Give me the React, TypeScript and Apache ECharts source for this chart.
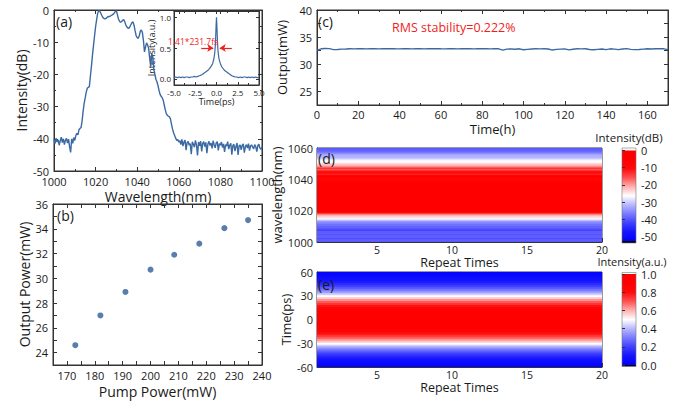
import React, { useEffect, useRef } from "react";
import * as echarts from "echarts";

const FONT = "'Open Sans', 'Noto Sans', sans-serif";
const TXT = "#1a1a1a";
const AXC = "#333333";
const LINE = "#3b6aa3";
const DOT = "#2f5d97";
const RED = "#f01e1e";

// ---------- (a) spectrum ----------
const WL_START = 1000;
const WL_STEP = 0.5;
const SPECTRUM_DB = [
  -40.2, -41.5, -39.8, -41.0, -40.3, -42.0, -40.6, -39.5, -41.2, -40.0, -41.8, -40.4, -39.9, -41.3, -40.1, -42.5, -44.2, -40.0, -41.4, -39.6, -40.5,
  -39.0, -38.3, -38.8, -37.2, -36.8, -36.5, -34.5, -31.5, -29.0, -27.3,
  -25.5, -24.3, -24.0, -23.8, -20.5, -17.5, -14.0, -11.0, -8.0, -5.2,
  -3.0, -1.0, -0.2, -0.3, -1.0, -1.7, -2.3, -2.6, -2.8, -2.6,
  -2.3, -2.0, -2.1, -1.9, -1.7, -1.5, -1.3, -0.9, -0.4, -0.3,
  -1.5, -2.8, -3.5, -3.8, -3.6, -3.2, -3.0, -3.6, -4.6, -5.2,
  -5.6, -5.7, -5.2, -4.5, -3.9, -3.7, -4.8, -6.5, -8.0, -8.6,
  -8.8, -8.0, -6.6, -6.2, -7.0, -9.5, -13.0, -11.5, -10.2, -10.8,
  -12.0, -15.0, -17.5, -13.5, -14.5, -18.5, -20.0, -21.5, -22.3, -23.5,
  -25.0, -26.2, -26.8, -27.2, -28.0, -29.5, -31.0, -32.2, -32.7, -33.0,
  -33.2, -33.8, -35.5, -37.0, -38.2, -39.0, -39.8, -40.5, -40.2, -41.0,
  -40.6, -41.8, -40.2, -42.3, -41.0, -40.4, -43.5, -41.2, -40.8, -42.0,
  -41.5, -44.8, -40.9, -41.7, -42.6, -40.5, -41.9, -45.2, -41.0, -42.2,
  -40.7, -43.9, -41.4, -40.9, -42.4, -41.1, -44.5, -41.6, -40.8, -42.1,
  -41.3, -43.0, -40.6, -41.9, -42.8, -41.2, -40.9, -43.6, -41.5, -42.0,
  -41.0, -42.7, -41.6, -44.1, -41.8, -42.3, -40.9, -43.2, -42.0, -41.4,
  -44.9, -42.1, -41.7, -43.8, -42.4, -41.3, -45.0, -42.2, -41.9, -43.4,
  -42.0, -41.6, -44.3, -42.5, -41.8, -42.9, -41.5, -43.7, -42.2, -41.9,
  -42.6, -43.1, -41.8, -42.4, -44.0, -42.1, -41.7, -42.9, -43.3, -42.5,
];
const WAVELENGTHS = SPECTRUM_DB.map((_, i) => WL_START + i * WL_STEP);

// ---------- (a) inset: autocorrelation ----------
const INSET_T = [
  -5, -4.8, -4.6, -4.4, -4.2, -4, -3.8, -3.6, -3.4, -3.2, -3, -2.8, -2.6, -2.4, -2.2, -2,
  -1.8, -1.6, -1.4, -1.2, -1,
  -0.8, -0.6, -0.45, -0.3, -0.2, -0.15, -0.1, -0.05,
  0,
  0.05, 0.1, 0.15, 0.2, 0.3, 0.45, 0.6, 0.8,
  1, 1.2, 1.4, 1.6, 1.8,
  2, 2.2, 2.4, 2.6, 2.8, 3, 3.2, 3.4, 3.6, 3.8, 4, 4.2, 4.4, 4.6, 4.8, 5,
];
const INSET_I = [
  0.02, 0.03, 0.02, 0.03, 0.02, 0.03, 0.02, 0.03, 0.03, 0.02, 0.03, 0.03, 0.04, 0.03, 0.04, 0.05,
  0.06, 0.08, 0.1, 0.12, 0.14,
  0.17, 0.21, 0.25, 0.33, 0.43, 0.52, 0.66, 0.86,
  1.0,
  0.85, 0.65, 0.51, 0.42, 0.32, 0.25, 0.2, 0.16,
  0.13, 0.11, 0.09, 0.07, 0.05,
  0.04, 0.03, 0.03, 0.02, 0.03, 0.02, 0.03, 0.03, 0.02, 0.03, 0.02, 0.03, 0.02, 0.03, 0.02, 0.02,
];
const INSET_Y_TICKS = [0, 0.5, 1.0];
const FWHM_TEXT = "1.41*231.7fs";
const ARROW_LEVEL = 0.5;
const ARROW_LEFT = [-1.8, -0.38];
const ARROW_RIGHT = [1.8, 0.38];

// ---------- (b) ----------
const PUMP_MW = [173, 182, 191, 200, 208.5, 217.5, 226.5, 235];
const OUTPUT_MW = [24.6, 27.0, 28.9, 30.7, 31.9, 32.8, 34.05, 34.7];

// ---------- (c) ----------
const HOURS = Array.from({ length: 86 }, (_, i) => i * 2);
const STABILITY_MW = [
  32.55, 32.85, 32.9, 32.88, 32.7, 32.72, 32.8, 32.82, 32.85, 32.83,
  32.86, 32.85, 32.84, 32.86, 32.85, 32.84, 32.86, 32.85, 32.87, 32.85,
  32.84, 32.86, 32.85, 32.83, 32.86, 32.85, 32.84, 32.86, 32.85, 32.87,
  32.85, 32.84, 32.86, 32.85, 32.84, 32.86, 32.85, 32.86, 32.84, 32.85,
  32.86, 32.85, 32.84, 32.86, 32.85, 32.62, 32.8, 32.82, 32.78, 32.85,
  32.68, 32.75, 32.82, 32.85, 32.84, 32.86, 32.82, 32.62, 32.75, 32.8,
  32.84, 32.65, 32.78, 32.85, 32.84, 32.86, 32.72, 32.68, 32.75, 32.82,
  32.7, 32.85, 32.8, 32.7, 32.82, 32.88, 32.75, 32.7, 32.72, 32.8,
  32.85, 32.82, 32.86, 32.88, 32.85, 32.7,
];
const RMS_TEXT = "RMS stability=0.222%";

// ---------- (d) / (e) ----------
const REPEAT_RANGE = [1, 20];
const REPEAT_LABELS = [5, 10, 15, 20];
const REPEAT_TICKS = [2.5, 5, 7.5, 10, 12.5, 15, 17.5, 20];
const D_WL_RANGE = [1000, 1060];
const D_CB_TICKS = [-50, -40, -30, -20, -10, 0];
const E_TIME_PS = Array.from({ length: 49 }, (_, i) => -60 + i * 2.5);
const E_INTENSITY = [
  0.02, 0.03, 0.05, 0.07, 0.09, 0.12, 0.16, 0.2, 0.25, 0.3, 0.36, 0.43,
  0.5, 0.57, 0.63, 0.69, 0.74, 0.79, 0.84, 0.88, 0.92, 0.95, 0.97, 0.99,
  1.0,
  0.99, 0.97, 0.95, 0.92, 0.88, 0.84, 0.79, 0.74, 0.69, 0.63, 0.57, 0.5,
  0.43, 0.36, 0.3, 0.25, 0.2, 0.16, 0.12, 0.09, 0.07, 0.05, 0.03, 0.02,
];

const CMAP = [
  "#0000ff", "#1414ff", "#4040ff", "#7a7aff", "#b8b8ff", "#ffffff",
  "#ffb0b0", "#ff5050", "#ff0a0a", "#ff0000", "#ff0000",
];

// layout
const G_A = { left: 54, top: 10, width: 208, height: 161 };
const G_IN = { left: 174, top: 11, width: 85, height: 74 };
const G_B = { left: 53, top: 204, width: 209, height: 161 };
const G_C = { left: 317, top: 10, width: 351, height: 95 };
const G_D = { left: 317, top: 148, width: 285, height: 94 };
const G_CD = { left: 622, top: 148, width: 14, height: 95 };
const G_E = { left: 317, top: 272, width: 285, height: 95 };
const G_CE = { left: 622, top: 274, width: 14, height: 91 };
const CD_MIN = -53.8, CD_MAX = 1.4;

function axis(gridIndex: number, o: any = {}) {
  const { label = {}, tick = {}, name, nameGap, nameSize = 14, minor, ...rest } = o;
  return {
    type: "value",
    gridIndex,
    axisLine: { show: true, onZero: false, lineStyle: { color: AXC, width: 1 } },
    axisTick: { show: true, inside: true, length: 4, lineStyle: { color: AXC, width: 1 }, ...tick },
    minorTick: minor
      ? { show: true, splitNumber: minor, length: 2, lineStyle: { color: AXC, width: 1 } }
      : { show: false },
    axisLabel: {
      color: TXT, fontSize: 11, fontFamily: FONT, margin: 5,
      formatter: (v: number) => String(v), ...label,
    },
    splitLine: { show: false },
    name,
    nameLocation: "middle",
    nameGap,
    nameTextStyle: { color: TXT, fontSize: nameSize, fontFamily: FONT },
    ...rest,
  };
}
function mirror(gridIndex: number, position: string, o: any = {}) {
  return axis(gridIndex, { position, ...o, label: { show: false } });
}

function heatItem(params: any, api: any) {
  const p1 = api.coord([api.value(0), api.value(3)]);
  const p2 = api.coord([api.value(2), api.value(1)]);
  return {
    type: "rect",
    shape: { x: p1[0], y: p1[1] - 0.4, width: p2[0] - p1[0], height: p2[1] - p1[1] + 0.8 },
    style: { fill: api.visual("color") },
  };
}

function gradient() {
  const n = CMAP.length;
  return {
    type: "linear", x: 0, y: 0, x2: 0, y2: 1,
    colorStops: CMAP.map((_, i) => ({ offset: i / (n - 1), color: CMAP[n - 1 - i] })),
  };
}

export default function App() {
  const ref = useRef<HTMLDivElement>(null);
  useEffect(() => {
    if (!ref.current) return;
    const chart = echarts.init(ref.current, null, { renderer: "svg" });

    const dBands = WAVELENGTHS.map((w, i) => [w, SPECTRUM_DB[i]])
      .filter(([w]) => w <= D_WL_RANGE[1])
      .map(([w, v]) => [
        REPEAT_RANGE[0], Math.max(D_WL_RANGE[0], w - WL_STEP / 2),
        REPEAT_RANGE[1], Math.min(D_WL_RANGE[1], w + WL_STEP / 2), v,
      ]);
    const eStep = E_TIME_PS[1] - E_TIME_PS[0];
    const eBands = E_TIME_PS.map((t, i) => [
      REPEAT_RANGE[0], Math.max(-60, t - eStep / 2),
      REPEAT_RANGE[1], Math.min(60, t + eStep / 2), E_INTENSITY[i],
    ]);

    const grid = (g: any, extra: any = {}) => ({
      ...g, show: true, borderColor: AXC, borderWidth: 1, backgroundColor: "transparent", ...extra,
    });

    const cdY = (v: number) => G_CD.top + ((CD_MAX - v) / (CD_MAX - CD_MIN)) * G_CD.height;

    const repeatAxis = (gi: number) =>
      axis(gi, {
        min: REPEAT_RANGE[0], max: REPEAT_RANGE[1],
        label: { customValues: REPEAT_LABELS, margin: 2, fontSize: 10.5 },
        tick: { customValues: REPEAT_TICKS },
        name: "Repeat Times", nameGap: 14, nameSize: 12.5,
      });

    const option: any = {
      animation: false,
      backgroundColor: "#ffffff",
      textStyle: { fontFamily: FONT },
      grid: [
        grid(G_A),
        grid(G_IN, { backgroundColor: "#ffffff" }),
        grid(G_B),
        grid(G_C),
        grid(G_D),
        { ...G_CD, show: false },
        grid(G_E),
        { ...G_CE, show: false },
      ],
      xAxis: [
        axis(0, { min: 1000, max: 1100, interval: 20, minor: 2, name: "Wavelength(nm)", nameGap: 18 }),
        mirror(0, "top", { min: 1000, max: 1100, interval: 20, minor: 2 }),
        axis(1, {
          min: -5, max: 5, interval: 2.5, minor: 2,
          label: { fontSize: 8, margin: 3, formatter: (v: number) => v.toFixed(1) },
          tick: { length: 3 }, name: "Time(ps)", nameGap: 12, nameSize: 9,
        }),
        mirror(1, "top", { min: -5, max: 5, interval: 2.5, minor: 2, tick: { length: 3 } }),
        axis(2, {
          min: 165, max: 240, interval: 5,
          label: { formatter: (v: number) => (v % 10 === 0 ? String(v) : "") },
          name: "Pump Power(mW)", nameGap: 19,
        }),
        mirror(2, "top", { min: 165, max: 240, interval: 5 }),
        axis(3, {
          min: 0, max: 170, interval: 20, minor: 2, label: { showMaxLabel: false, margin: 4 },
          name: "Time(h)", nameGap: 17, nameSize: 13,
        }),
        mirror(3, "top", { min: 0, max: 170, interval: 20, minor: 2 }),
        repeatAxis(4),
        { type: "value", gridIndex: 5, show: false, min: 0, max: 1 },
        repeatAxis(6),
        { type: "value", gridIndex: 7, show: false, min: 0, max: 1 },
      ],
      yAxis: [
        axis(0, { min: -50, max: 0, interval: 10, minor: 2, name: "Intensity(dB)", nameGap: 24 }),
        mirror(0, "right", { min: -50, max: 0, interval: 10, minor: 2 }),
        axis(1, {
          min: -0.1, max: 1.1,
          label: { fontSize: 8, margin: 3, customValues: INSET_Y_TICKS, formatter: (v: number) => v.toFixed(1) },
          tick: { length: 3, customValues: INSET_Y_TICKS },
          name: "Intensity(a.u.)", nameGap: 14, nameSize: 9,
        }),
        mirror(1, "right", { min: -0.1, max: 1.1, tick: { length: 3, customValues: INSET_Y_TICKS } }),
        axis(2, {
          min: 23, max: 36, interval: 1,
          label: { formatter: (v: number) => (v % 2 === 0 ? String(v) : "") },
          name: "Output Power(mW)", nameGap: 22,
        }),
        mirror(2, "right", { min: 23, max: 36, interval: 1 }),
        axis(3, {
          min: 22.5, max: 40, interval: 2.5,
          label: { formatter: (v: number) => (v % 5 === 0 ? String(v) : "") },
          name: "Output(mW)", nameGap: 20, nameSize: 13,
        }),
        mirror(3, "right", { min: 22.5, max: 40, interval: 2.5 }),
        axis(4, {
          min: D_WL_RANGE[0], max: D_WL_RANGE[1], interval: 20, minor: 2,
          label: { margin: 4 }, name: "wavelength(nm)", nameGap: 20, nameSize: 13,
        }),
        axis(5, {
          position: "right", min: CD_MIN, max: CD_MAX,
          axisLine: { show: false },
          label: { customValues: D_CB_TICKS, margin: 5 },
          tick: { customValues: D_CB_TICKS, inside: false, length: 3 },
        }),
        axis(6, {
          min: -60, max: 60, interval: 30, minor: 2,
          label: { margin: 4 }, name: "Time(ps)", nameGap: 20, nameSize: 13,
        }),
        axis(7, {
          position: "right", min: 0, max: 1, interval: 0.2,
          axisLine: { show: false },
          label: { formatter: (v: number) => v.toFixed(1), margin: 5 },
          tick: { inside: false, length: 3 },
        }),
      ],
      visualMap: [
        { type: "continuous", show: false, seriesIndex: 4, dimension: 4, min: -54, max: 0, inRange: { color: CMAP } },
        { type: "continuous", show: false, seriesIndex: 5, dimension: 4, min: 0, max: 1, inRange: { color: CMAP } },
      ],
      series: [
        {
          type: "line", xAxisIndex: 0, yAxisIndex: 0, showSymbol: false,
          data: WAVELENGTHS.map((w, i) => [w, SPECTRUM_DB[i]]),
          lineStyle: { color: LINE, width: 1.4 }, itemStyle: { color: LINE },
        },
        {
          type: "line", xAxisIndex: 2, yAxisIndex: 2, showSymbol: false, z: 5,
          data: INSET_T.map((t, i) => [t, INSET_I[i]]),
          lineStyle: { color: LINE, width: 1.2 }, itemStyle: { color: LINE },
          markLine: {
            silent: true, symbol: ["none", "arrow"], symbolSize: 6,
            lineStyle: { color: RED, width: 1.2, type: "solid" },
            label: { show: false },
            data: [
              [{ coord: [ARROW_LEFT[0], ARROW_LEVEL] }, { coord: [ARROW_LEFT[1], ARROW_LEVEL] }],
              [{ coord: [ARROW_RIGHT[0], ARROW_LEVEL] }, { coord: [ARROW_RIGHT[1], ARROW_LEVEL] }],
            ],
          },
        },
        {
          type: "scatter", xAxisIndex: 4, yAxisIndex: 4, symbolSize: 6,
          data: PUMP_MW.map((p, i) => [p, OUTPUT_MW[i]]),
          itemStyle: { color: DOT },
        },
        {
          type: "line", xAxisIndex: 6, yAxisIndex: 6, showSymbol: false,
          data: HOURS.map((h, i) => [h, STABILITY_MW[i]]),
          lineStyle: { color: LINE, width: 1.4 }, itemStyle: { color: LINE },
        },
        {
          type: "custom", xAxisIndex: 8, yAxisIndex: 8, clip: true,
          encode: { x: [0, 2], y: [1, 3] }, renderItem: heatItem, data: dBands,
        },
        {
          type: "custom", xAxisIndex: 10, yAxisIndex: 10, clip: true,
          encode: { x: [0, 2], y: [1, 3] }, renderItem: heatItem, data: eBands,
        },
      ],
      graphic: [
        ...[
          ["(a)", 56, 21], ["(b)", 57, 215], ["(c)", 318, 21], ["(d)", 318, 158], ["(e)", 318, 284],
        ].map(([t, x, y]) => ({
          type: "text", x, y, z: 10,
          style: { text: t, fill: TXT, fontSize: 14, fontFamily: FONT, textAlign: "left", textVerticalAlign: "middle" },
        })),
        {
          type: "text", x: 392, y: 27, z: 10,
          style: { text: RMS_TEXT, fill: RED, fontSize: 12.5, fontFamily: FONT, textAlign: "left", textVerticalAlign: "middle" },
        },
        {
          type: "text", x: 168, y: 41, z: 10,
          style: { text: FWHM_TEXT, fill: RED, fontSize: 8.5, fontFamily: FONT, textAlign: "left", textVerticalAlign: "middle" },
        },
        {
          type: "text", x: 629, y: 137, z: 10,
          style: { text: "Intensity(dB)", fill: TXT, fontSize: 11.5, fontFamily: FONT, textAlign: "center", textVerticalAlign: "middle" },
        },
        {
          type: "text", x: 632, y: 261, z: 10,
          style: { text: "Intensity(a.u.)", fill: TXT, fontSize: 11, fontFamily: FONT, textAlign: "center", textVerticalAlign: "middle" },
        },
        // colorbar (d)
        { type: "rect", shape: { x: G_CD.left, y: G_CD.top, width: G_CD.width, height: cdY(0) - G_CD.top }, style: { fill: "#ffffff" } },
        { type: "rect", shape: { x: G_CD.left, y: cdY(0), width: G_CD.width, height: G_CD.top + G_CD.height - 2 - cdY(0) }, style: { fill: gradient() } },
        { type: "rect", shape: { x: G_CD.left, y: G_CD.top + G_CD.height - 2, width: G_CD.width, height: 2 }, style: { fill: "#000000" } },
        { type: "rect", shape: { x: G_CD.left, y: G_CD.top, width: G_CD.width, height: G_CD.height }, style: { fill: "none", stroke: "#777", lineWidth: 0.6 } },
        // colorbar (e)
        { type: "rect", shape: { x: G_CE.left, y: G_CE.top - 1.5, width: G_CE.width, height: 1.5 }, style: { fill: "#ffffff" } },
        { type: "rect", shape: { x: G_CE.left, y: G_CE.top, width: G_CE.width, height: G_CE.height }, style: { fill: gradient() } },
        { type: "rect", shape: { x: G_CE.left, y: G_CE.top + G_CE.height, width: G_CE.width, height: 1.5 }, style: { fill: "#000000" } },
        { type: "rect", shape: { x: G_CE.left, y: G_CE.top - 1.5, width: G_CE.width, height: G_CE.height + 3 }, style: { fill: "none", stroke: "#777", lineWidth: 0.6 } },
      ],
    };
    chart.setOption(option);
    return () => chart.dispose();
  }, []);
  return <div ref={ref} style={{ position: "absolute", left: 0, top: 0, width: 678, height: 401 }} />;
}
